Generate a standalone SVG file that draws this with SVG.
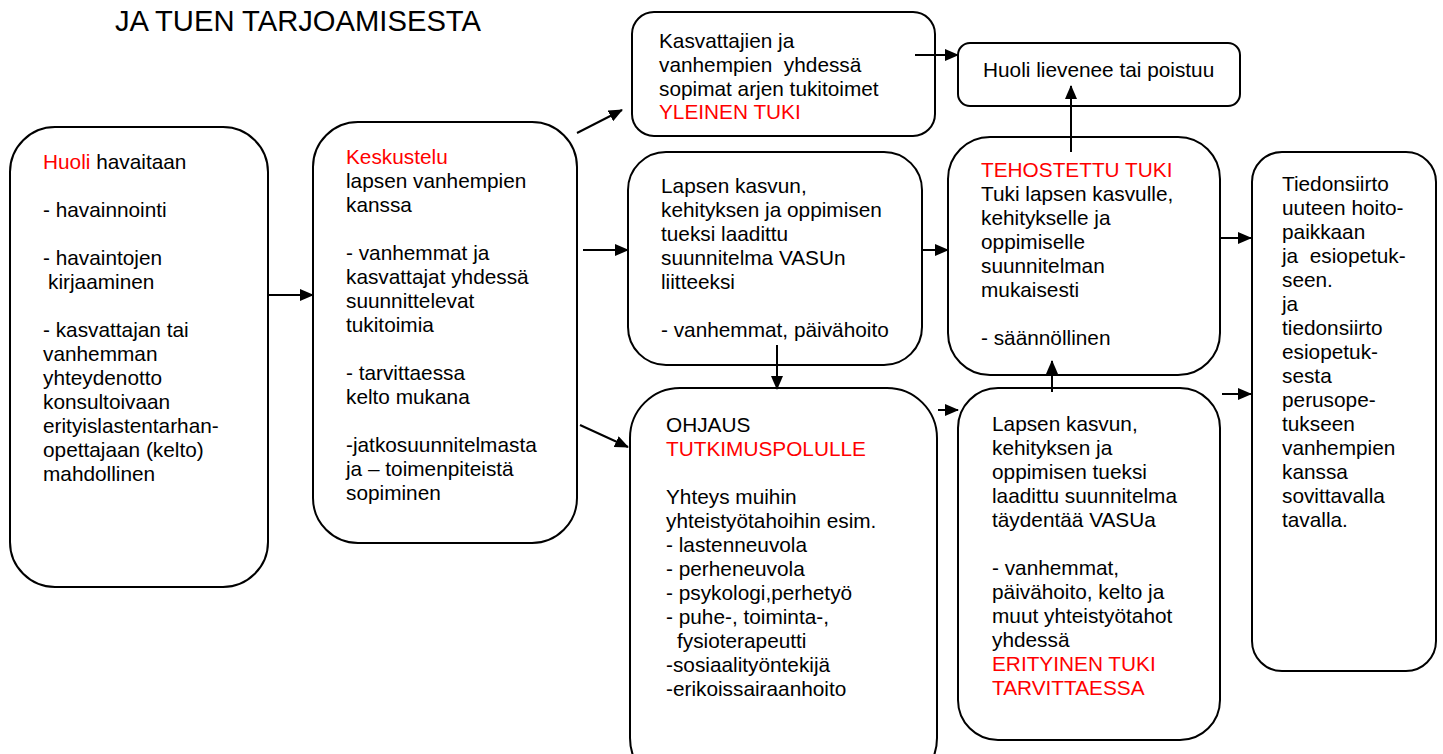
<svg xmlns="http://www.w3.org/2000/svg" width="1443" height="754" viewBox="0 0 1443 754">
<style>
.box{fill:#fff;stroke:#000;stroke-width:2}
.t{font-family:"Liberation Sans",Arial,sans-serif;font-size:20.8px;fill:#000}
.r{fill:#ff0000}
.title{font-family:"Liberation Sans",Arial,sans-serif;font-size:29.2px;fill:#000}
.c{stroke:#000;stroke-width:2;fill:none;marker-end:url(#ah)}
</style>
<defs>
<marker id="ah" markerUnits="userSpaceOnUse" markerWidth="14" markerHeight="12" refX="13" refY="6" orient="auto">
<path d="M0,0 L14,6 L0,12 z" fill="#000"/>
</marker>
</defs>
<rect width="1443" height="754" fill="#fff"/>
<text class="title" x="115" y="31">JA TUEN TARJOAMISESTA</text>

<g id="n1">
<rect class="box" x="10" y="127" width="258" height="460" rx="45"/>
<text class="t" x="43" y="169"><tspan class="r">Huoli</tspan> havaitaan</text>
<text class="t" x="43" y="217">- havainnointi</text>
<text class="t" x="43" y="265">- havaintojen</text>
<text class="t" x="48" y="289">kirjaaminen</text>
<text class="t" x="43" y="337">- kasvattajan tai</text>
<text class="t" x="43" y="361">vanhemman</text>
<text class="t" x="43" y="385">yhteydenotto</text>
<text class="t" x="43" y="409">konsultoivaan</text>
<text class="t" x="43" y="433">erityislastentarhan-</text>
<text class="t" x="43" y="457">opettajaan (kelto)</text>
<text class="t" x="43" y="481">mahdollinen</text>
</g>

<g id="n2">
<rect class="box" x="313" y="122" width="264" height="421" rx="45"/>
<text class="t r" x="346" y="164">Keskustelu</text>
<text class="t" x="346" y="188">lapsen vanhempien</text>
<text class="t" x="346" y="212">kanssa</text>
<text class="t" x="346" y="260">- vanhemmat ja</text>
<text class="t" x="346" y="284">kasvattajat yhdessä</text>
<text class="t" x="346" y="308">suunnittelevat</text>
<text class="t" x="346" y="332">tukitoimia</text>
<text class="t" x="346" y="380">- tarvittaessa</text>
<text class="t" x="346" y="404">kelto mukana</text>
<text class="t" x="346" y="452">-jatkosuunnitelmasta</text>
<text class="t" x="346" y="476">ja – toimenpiteistä</text>
<text class="t" x="346" y="500">sopiminen</text>
</g>

<g id="n3">
<rect class="box" x="632" y="12" width="303" height="124" rx="22"/>
<text class="t" x="659" y="48">Kasvattajien ja</text>
<text class="t" x="659" y="72" xml:space="preserve">vanhempien  yhdessä</text>
<text class="t" x="659" y="96">sopimat arjen tukitoimet</text>
<text class="t r" x="659" y="119">YLEINEN TUKI</text>
</g>

<g id="n4">
<rect class="box" x="958" y="43" width="282" height="63" rx="12"/>
<text class="t" x="983" y="77">Huoli lievenee tai poistuu</text>
</g>

<g id="n5">
<rect class="box" x="628" y="152" width="294" height="213" rx="38"/>
<text class="t" x="661" y="193">Lapsen kasvun,</text>
<text class="t" x="661" y="217">kehityksen ja oppimisen</text>
<text class="t" x="661" y="241">tueksi laadittu</text>
<text class="t" x="661" y="265">suunnitelma VASUn</text>
<text class="t" x="661" y="289">liitteeksi</text>
<text class="t" x="661" y="337">- vanhemmat, päivähoito</text>
</g>

<g id="n6">
<rect class="box" x="948" y="137" width="272" height="238" rx="42"/>
<text class="t r" x="981" y="177">TEHOSTETTU TUKI</text>
<text class="t" x="981" y="201">Tuki lapsen kasvulle,</text>
<text class="t" x="981" y="225">kehitykselle ja</text>
<text class="t" x="981" y="249">oppimiselle</text>
<text class="t" x="981" y="273">suunnitelman</text>
<text class="t" x="981" y="297">mukaisesti</text>
<text class="t" x="981" y="345">- säännöllinen</text>
</g>

<g id="n7">
<rect class="box" x="630" y="388" width="307" height="400" rx="50"/>
<text class="t" x="666" y="432">OHJAUS</text>
<text class="t r" x="666" y="456">TUTKIMUSPOLULLE</text>
<text class="t" x="666" y="504">Yhteys muihin</text>
<text class="t" x="666" y="528">yhteistyötahoihin esim.</text>
<text class="t" x="666" y="552">- lastenneuvola</text>
<text class="t" x="666" y="576">- perheneuvola</text>
<text class="t" x="666" y="600">- psykologi,perhetyö</text>
<text class="t" x="666" y="624">- puhe-, toiminta-,</text>
<text class="t" x="677" y="648">fysioterapeutti</text>
<text class="t" x="666" y="672">-sosiaalityöntekijä</text>
<text class="t" x="666" y="696">-erikoissairaanhoito</text>
</g>

<g id="n8">
<rect class="box" x="958" y="388" width="262" height="352" rx="40"/>
<text class="t" x="992" y="431">Lapsen kasvun,</text>
<text class="t" x="992" y="455">kehityksen ja</text>
<text class="t" x="992" y="479">oppimisen tueksi</text>
<text class="t" x="992" y="503">laadittu suunnitelma</text>
<text class="t" x="992" y="527">täydentää VASUa</text>
<text class="t" x="992" y="575">- vanhemmat,</text>
<text class="t" x="992" y="599">päivähoito, kelto ja</text>
<text class="t" x="992" y="623">muut yhteistyötahot</text>
<text class="t" x="992" y="647">yhdessä</text>
<text class="t r" x="992" y="671">ERITYINEN TUKI</text>
<text class="t r" x="992" y="695">TARVITTAESSA</text>
</g>

<g id="n9">
<rect class="box" x="1252" y="152" width="184" height="519" rx="30"/>
<text class="t" x="1282" y="191">Tiedonsiirto</text>
<text class="t" x="1282" y="215">uuteen hoito-</text>
<text class="t" x="1282" y="239">paikkaan</text>
<text class="t" x="1282" y="263" xml:space="preserve">ja  esiopetuk-</text>
<text class="t" x="1282" y="287">seen.</text>
<text class="t" x="1282" y="311">ja</text>
<text class="t" x="1282" y="335">tiedonsiirto</text>
<text class="t" x="1282" y="359">esiopetuk-</text>
<text class="t" x="1282" y="383">sesta</text>
<text class="t" x="1282" y="407">perusope-</text>
<text class="t" x="1282" y="431">tukseen</text>
<text class="t" x="1282" y="455">vanhempien</text>
<text class="t" x="1282" y="479">kanssa</text>
<text class="t" x="1282" y="503">sovittavalla</text>
<text class="t" x="1282" y="527">tavalla.</text>
</g>

<g id="connectors">
<path class="c" d="M268,295 L313,295"/>
<path class="c" d="M577,133 L622,110"/>
<path class="c" d="M583,250 L628,250"/>
<path class="c" d="M580,425 L628,447"/>
<path class="c" d="M915,55 L958,55"/>
<path class="c" d="M922,250 L948,250"/>
<path class="c" d="M777,345 L777,389"/>
<path class="c" d="M1071,152 L1071,86"/>
<path class="c" d="M938,410 L958,410"/>
<path class="c" d="M1052,392 L1052,361"/>
<path class="c" d="M1220,238 L1251,238"/>
<path class="c" d="M1222,394 L1251,394"/>
</g>
</svg>
